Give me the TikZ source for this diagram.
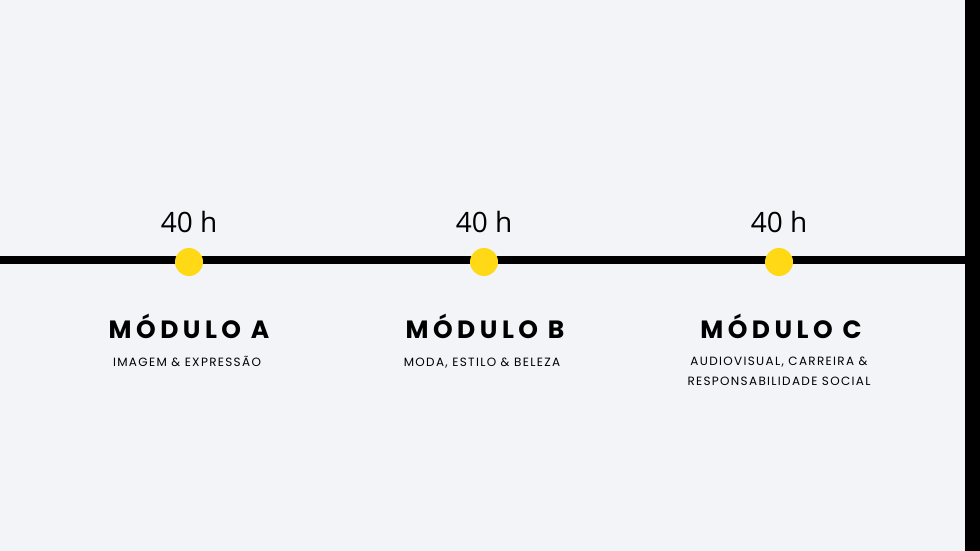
\documentclass[tikz,border=0pt]{standalone}
\usepackage{fontspec}
\setmainfont{Open Sans}
\newfontfamily\titlefont[LetterSpace=18]{Poppins}
\newfontfamily\subfont[LetterSpace=11]{Poppins}
\usetikzlibrary{positioning}

\definecolor{pagegray}{RGB}{242,244,248}
\definecolor{dotyellow}{RGB}{255,217,22}

\begin{document}
\begin{tikzpicture}[
            x=1pt, y=-1pt, % one unit = one pixel of the layout
            dot/.style={
                circle,
                fill=dotyellow,
                minimum size=28pt,
                inner sep=0pt
            },
            hours/.style={
                inner sep=0pt,
                font=\fontsize{28}{30}\selectfont
            },
            title/.style={
                inner sep=0pt,
                anchor=base,
                font=\titlefont\bfseries\fontsize{25}{27}\selectfont
            },
            subtitle/.style={
                inner sep=0pt,
                anchor=base,
                align=center,
                font=\subfont\fontsize{12}{20}\selectfont
            }
        ]
        % page and frame
        \fill[pagegray] (0,0) rectangle (980,551);
        \useasboundingbox (0,0) rectangle (980,551);
        \fill[black] (965,0) rectangle (980,551) coordinate (barend);
        \coordinate (start) at (0,260);
        \coordinate (stop) at (965,260);
        \draw[line width=8pt] (start) -- (stop);

        % stops on the line
        \node[dot] (dotA) at (189,262) {};
        \node[dot] (dotB) at (484,262) {};
        \node[dot] (dotC) at (779,262) {};

        \node[hours, above=15pt of dotA] (hoursA) {40 h};
        \node[hours, above=15pt of dotB] (hoursB) {40 h};
        \node[hours, above=15pt of dotC] (hoursC) {40 h};

        \node[title] (titleA) at (189,338) {MÓDULO A};
        \node[title] (titleB) at (485,338) {MÓDULO B};
        \node[title] (titleC) at (781,338) {MÓDULO C};

        \node[subtitle] (subA) at (187,366) {IMAGEM \& EXPRESSÃO};
        \node[subtitle] (subB) at (482,366) {MODA, ESTILO \& BELEZA};
        \node[subtitle, anchor=north] (subC) at (779,357) {AUDIOVISUAL, CARREIRA \&\\RESPONSABILIDADE SOCIAL};
    \end{tikzpicture}
\end{document}
